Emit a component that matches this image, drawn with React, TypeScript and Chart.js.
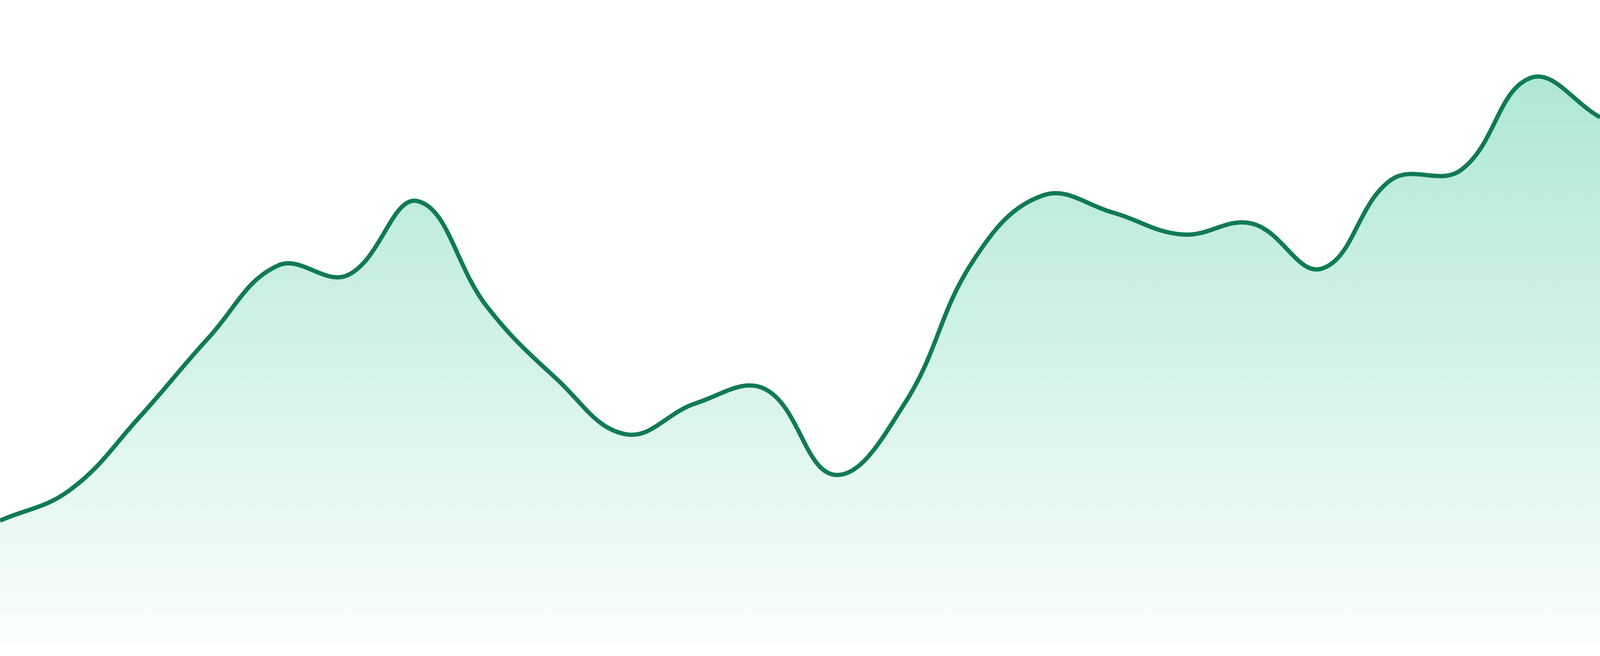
import React, { useEffect, useRef } from "react";
import { Chart, registerables } from "chart.js";

Chart.register(...registerables);

const labels: string[] = [
  "1", "2", "3", "4", "5", "6", "7", "8", "9", "10", "11", "12",
  "13", "14", "15", "16", "17", "18", "19", "20", "21", "22", "23", "24",
];

const values: number[] = [
  19.2, 23.9, 35.2, 47.6, 58.8, 57.3, 68.8, 52.4, 41.2, 32.6, 37.4, 39.6,
  26.3, 37.3, 59.7, 69.7, 67.0, 63.6, 65.3, 58.3, 72.1, 73.6, 87.9, 81.8,
];

const LINE_COLOR = "#117b52";
const FILL_RGB = "16, 185, 129";

export default function App() {
  const canvasRef = useRef<HTMLCanvasElement | null>(null);

  useEffect(() => {
    document.body.style.margin = "0";
    document.body.style.overflow = "hidden";
    const canvas = canvasRef.current;
    if (!canvas) return;
    const chart = new Chart(canvas, {
      type: "line",
      data: {
        labels,
        datasets: [
          {
            data: values,
            borderColor: LINE_COLOR,
            borderWidth: 11,
            tension: 0.4,
            pointRadius: 0,
            pointHoverRadius: 0,
            fill: "start",
            backgroundColor: (ctx: any) => {
              const c = ctx.chart;
              const area = c.chartArea;
              if (!area) return `rgba(${FILL_RGB}, 0.2)`;
              const g = c.ctx.createLinearGradient(0, area.top, 0, area.bottom);
              g.addColorStop(0, `rgba(${FILL_RGB}, 0.38)`);
              g.addColorStop(1, `rgba(${FILL_RGB}, 0.025)`);
              return g;
            },
          },
        ],
      },
      options: {
        animation: false,
        responsive: true,
        maintainAspectRatio: false,
        layout: { padding: { top: 0, left: 0, right: 0, bottom: 30 } },
        plugins: {
          legend: { display: false },
          tooltip: { enabled: false },
        },
        scales: {
          x: { display: false, offset: false },
          y: { display: false, min: 0, max: 100 },
        },
      },
    });
    return () => chart.destroy();
  }, []);

  return (
    <div style={{ position: "relative", width: "100vw", height: "100vh" }}>
      <canvas ref={canvasRef} />
    </div>
  );
}
